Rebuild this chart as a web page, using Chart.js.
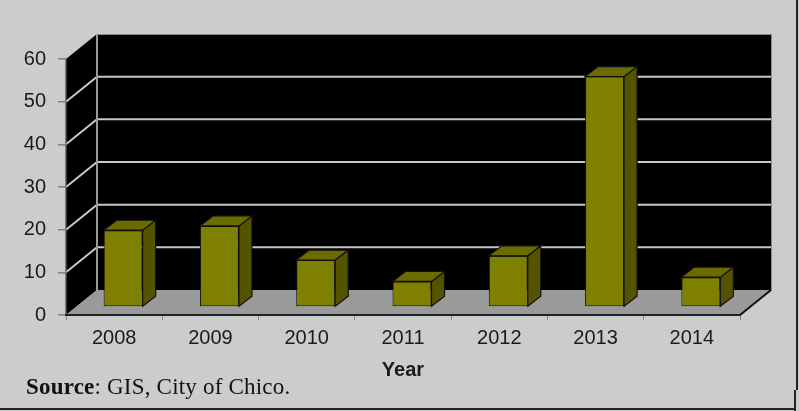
<!DOCTYPE html>
<html>
<head>
<meta charset="utf-8">
<script src="https://cdn.jsdelivr.net/npm/chart.js@4.4.1/dist/chart.umd.min.js"></script>
<style>
  html, body { margin: 0; padding: 0; background: #cccccc; }
  #wrap { position: relative; width: 799px; height: 411px; overflow: hidden; }
  #chart { display: block; }
  .source {
    position: absolute; left: 26px; top: 375px;
    font-family: "Liberation Serif", "DejaVu Serif", serif;
    font-size: 23px; line-height: 1; color: #111; white-space: nowrap;
    letter-spacing: 0.2px;
  }
</style>
</head>
<body>
<div id="wrap">
  <canvas id="chart" width="799" height="411"></canvas>
  <div class="source"><b>Source</b>: GIS, City of Chico.</div>
</div>
<script>
const years = ['2008', '2009', '2010', '2011', '2012', '2013', '2014'];
const counts = [18, 19, 11, 6, 12, 54, 7];
const yMin = 0;
const yMax = 60;
const yStep = 10;

// 3d look: how far the back wall sits from the front, where bars stand, how deep a bar is
const depth = { x: 31, y: -25 };
const barShift = { x: 9, y: -8 };
const barDepth = { x: 13, y: -10 };

const canvas = document.querySelector('#chart').getContext('2d');

function poly(ctx, pts) {
    ctx.beginPath();
    ctx.moveTo(pts[0][0], pts[0][1]);
    for (let i = 1; i < pts.length; i++) {
        ctx.lineTo(pts[i][0], pts[i][1]);
    }
    ctx.closePath();
}

const box3d = {
    id: 'box3d',
    beforeDraw(chart) {
        const ctx = chart.ctx;
        const a = chart.chartArea;
        const y = chart.scales.y;
        ctx.save();
        // left wall + back wall
        ctx.fillStyle = '#000';
        poly(ctx, [[a.left, a.top], [a.left + depth.x, a.top + depth.y], [a.left + depth.x, a.bottom + depth.y], [a.left, a.bottom]]);
        ctx.fill();
        ctx.fillRect(a.left + depth.x, a.top + depth.y, a.right - a.left, a.bottom - a.top);
        ctx.strokeStyle = '#8a8a8a';
        ctx.lineWidth = 1;
        ctx.strokeRect(a.left + depth.x + 0.5, a.top + depth.y + 0.5, a.right - a.left, a.bottom - a.top);
        // floor
        ctx.fillStyle = '#9a9a9a';
        poly(ctx, [[a.left, a.bottom], [a.right, a.bottom], [a.right + depth.x, a.bottom + depth.y], [a.left + depth.x, a.bottom + depth.y]]);
        ctx.fill();
        // gridlines on both walls
        ctx.strokeStyle = '#c8c8c8';
        ctx.lineWidth = 2;
        y.ticks.forEach(t => {
            if (t.value === yMin || t.value === yMax) return;
            const py = y.getPixelForValue(t.value);
            ctx.beginPath();
            ctx.moveTo(a.left, py);
            ctx.lineTo(a.left + depth.x, py + depth.y);
            ctx.lineTo(a.right + depth.x, py + depth.y);
            ctx.stroke();
        });
        // back corner edge
        ctx.strokeStyle = '#9a9a9a';
        ctx.beginPath();
        ctx.moveTo(a.left + depth.x, a.top + depth.y);
        ctx.lineTo(a.left + depth.x, a.bottom + depth.y);
        ctx.stroke();
        // floor right edge
        ctx.strokeStyle = '#111';
        ctx.beginPath();
        ctx.moveTo(a.right, a.bottom);
        ctx.lineTo(a.right + depth.x, a.bottom + depth.y);
        ctx.stroke();
        ctx.restore();
    },
    beforeDatasetsDraw(chart) {
        chart.ctx.save();
        chart.ctx.translate(barShift.x, barShift.y);
    },
    afterDatasetsDraw(chart) {
        const ctx = chart.ctx;
        ctx.lineWidth = 1.2;
        ctx.strokeStyle = '#111';
        chart.getDatasetMeta(0).data.forEach(bar => {
            const p = bar.getProps(['x', 'y', 'base', 'width'], true);
            const l = p.x - p.width / 2;
            const r = p.x + p.width / 2;
            // side face
            ctx.fillStyle = '#545400';
            poly(ctx, [[r, p.y], [r + barDepth.x, p.y + barDepth.y], [r + barDepth.x, p.base + barDepth.y], [r, p.base]]);
            ctx.fill();
            ctx.stroke();
            // top face
            ctx.fillStyle = '#6b6b00';
            poly(ctx, [[l, p.y], [l + barDepth.x, p.y + barDepth.y], [r + barDepth.x, p.y + barDepth.y], [r, p.y]]);
            ctx.fill();
            ctx.stroke();
        });
        ctx.restore();
    },
    afterDraw(chart) {
        // frame lines on the right and bottom of the picture
        const ctx = chart.ctx;
        ctx.save();
        ctx.fillStyle = '#222';
        ctx.fillRect(796, 0, 2, 390);
        ctx.fillRect(794, 390, 2, 21);
        ctx.fillRect(0, 408, 795, 2);
        ctx.restore();
    }
};

const tickFont = { family: '"Liberation Sans", Arial, sans-serif', size: 20 };

const chart = new Chart(canvas, {
    type: 'bar',
    data: {
        labels: years,
        datasets: [{
            data: counts,
            backgroundColor: '#808000',
            borderColor: '#111',
            borderWidth: 1,
            borderSkipped: false,
            categoryPercentage: 1,
            barPercentage: 0.405,
            clip: false
        }]
    },
    options: {
        responsive: false,
        animation: false,
        layout: { padding: { top: 59, right: 59, left: 0, bottom: 0 } },
        plugins: {
            legend: { display: false },
            tooltip: { enabled: false }
        },
        scales: {
            y: {
                min: yMin,
                max: yMax,
                ticks: { stepSize: yStep, padding: 12, color: '#1a1a1a', font: tickFont },
                grid: { drawOnChartArea: false, drawTicks: true, tickLength: 8, color: '#808080', lineWidth: 1.5 },
                border: { display: true, color: '#7a7a7a', width: 1.5 },
                afterFit(scale) { scale.width = 66; }
            },
            x: {
                ticks: { padding: 6, color: '#1a1a1a', font: tickFont, maxRotation: 0 },
                grid: { drawOnChartArea: false, drawTicks: true, tickLength: 5, color: '#888', offset: true },
                border: { display: true, color: '#222', width: 2 },
                title: {
                    display: true,
                    text: 'Year',
                    color: '#1a1a1a',
                    font: { family: '"Liberation Sans", Arial, sans-serif', size: 20, weight: 'bold' },
                    padding: { top: 0, bottom: 29 }
                },
                afterFit(scale) { scale.height = 96; }
            }
        }
    },
    plugins: [box3d]
});
</script>
</body>
</html>
